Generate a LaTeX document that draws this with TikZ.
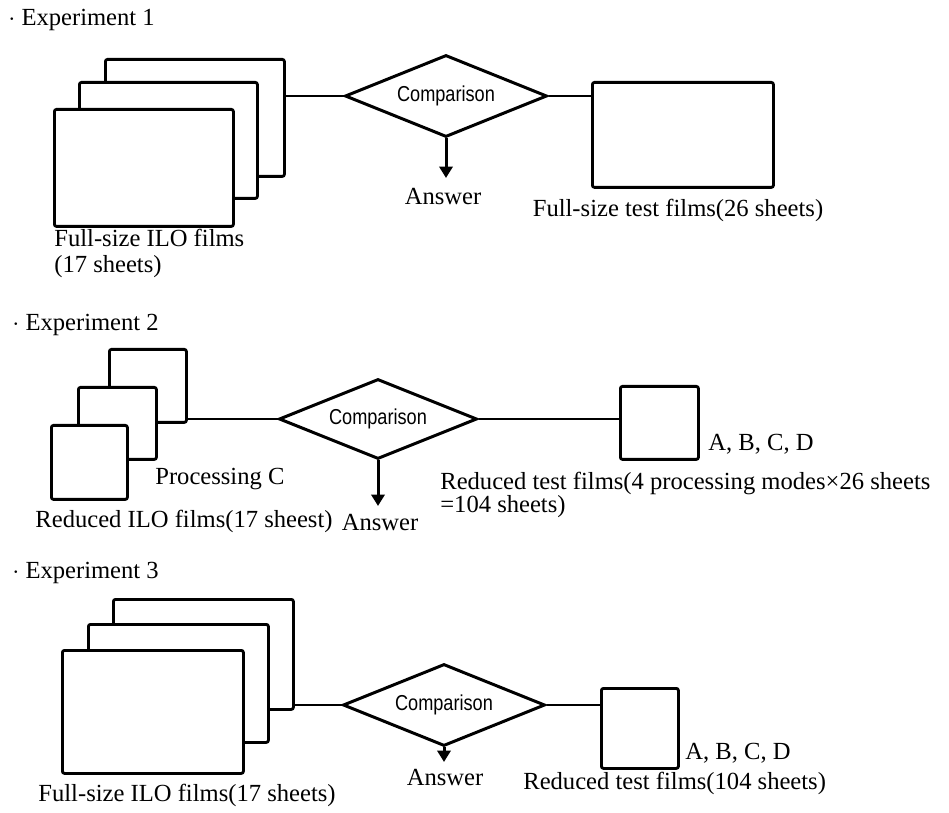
\documentclass[tikz,border=0pt]{standalone}
\usepackage{fontspec}
\setmainfont{Liberation Serif}
\newfontfamily\cmpfont[FakeStretch=0.84]{Liberation Sans}
\usetikzlibrary{arrows.meta,shapes.geometric}
\tikzset{
  film/.style 2 args={draw,fill=white,line width=1.6pt,rounded corners=1.2pt,inner sep=0pt,
    anchor=north west,minimum width=#1*0.02cm,minimum height=#2*0.02cm},
  vergl/.style 2 args={diamond,draw,line width=1.7pt,inner sep=0pt,aspect=2.46,
    minimum width=#1*0.02cm,minimum height=#2*0.02cm,font=\cmpfont\fontsize{12.3pt}{14pt}\selectfont},
  verb/.style={line width=1.6pt},
  pfeil/.style={-{Triangle[length=6.5pt,width=7.5pt]},line width=1.7pt},
  txt/.style={inner sep=0pt,font=\fontsize{14pt}{16pt}\selectfont},
}
\begin{document}
\begin{tikzpicture}[x=0.02cm,y=-0.02cm]
  \useasboundingbox (0,0) rectangle (949,813);
  % ===== Experiment 1 =====
  \node[txt,anchor=west] (tit1) at (8,20) {$\cdot$ Experiment 1};
  \foreach \n/\x/\y/\w/\h in {a/104/58/179/117, b/78/81/178/116, c/53/108/179/117}{
    \node[film={\w}{\h}] (s1\n) at (\x,\y) {};}
  \node[vergl={202}{82}] (v1) at (446,96) {Comparison};
  \node[film={181}{105}] (t1) at (591,81) {};
  \coordinate (p1) at (446,178);
  \draw[verb] (s1a.east |- v1.west) -- (v1.west);
  \draw[verb] (v1.east) -- (t1.west |- v1.east);
  \draw[pfeil] (v1.south) -- (p1);
  \node[txt] (a1) at (443,197) {Answer};
  \node[txt] (l1t) at (678,210) {Full-size test films(26 sheets)};
  \node[txt,anchor=north west,align=left,font=\fontsize{14pt}{14.5pt}\selectfont] (l1s) at (54,229)
    {Full-size ILO films\\(17 sheets)};
  % ===== Experiment 2 =====
  \node[txt,anchor=west] (tit2) at (12,325) {$\cdot$ Experiment 2};
  \foreach \n/\x/\y/\w/\h in {a/108/348/77/73, b/77/386/78/72, c/50/424/76/74}{
    \node[film={\w}{\h}] (s2\n) at (\x,\y) {};}
  \node[vergl={198}{80}] (v2) at (378,419) {Comparison};
  \node[film={78}{73}] (t2) at (619,385) {};
  \coordinate (p2) at (378,506);
  \draw[verb] (s2a.east |- v2.west) -- (v2.west);
  \draw[verb] (v2.east) -- (t2.west |- v2.east);
  \draw[pfeil] (v2.south) -- (p2);
  \node[txt,anchor=west] (pc) at (155,479) {Processing C};
  \node[txt] (l2s) at (184,521) {Reduced ILO films(17 sheest)};
  \node[txt] (a2) at (380,523) {Answer};
  \node[txt,anchor=west] (m2) at (708,444) {A, B, C, D};
  \node[txt,anchor=north west,align=left,font=\fontsize{14pt}{13pt}\selectfont] (l2t) at (440,472)
    {Reduced test films(4 processing modes×26 sheets\\=104 sheets)};
  % ===== Experiment 3 =====
  \node[txt,anchor=west] (tit3) at (12,573) {$\cdot$ Experiment 3};
  \foreach \n/\x/\y/\w/\h in {a/112/598/180/110, b/87/623/180/118, c/61/649/181/123}{
    \node[film={\w}{\h}] (s3\n) at (\x,\y) {};}
  \node[vergl={202}{82}] (v3) at (444,705) {Comparison};
  \node[film={77}{80}] (t3) at (600,687) {};
  \coordinate (p3) at (444,762);
  \draw[verb] (s3a.east |- v3.west) -- (v3.west);
  \draw[verb] (v3.east) -- (t3.west |- v3.east);
  \draw[pfeil] (v3.south) -- (p3);
  \node[txt] (l3s) at (187,795) {Full-size ILO films(17 sheets)};
  \node[txt] (a3) at (445,777) {Answer};
  \node[txt,anchor=west] (m3) at (685,753) {A, B, C, D};
  \node[txt,anchor=west] (l3t) at (523,783) {Reduced test films(104 sheets)};
\end{tikzpicture}
\end{document}
